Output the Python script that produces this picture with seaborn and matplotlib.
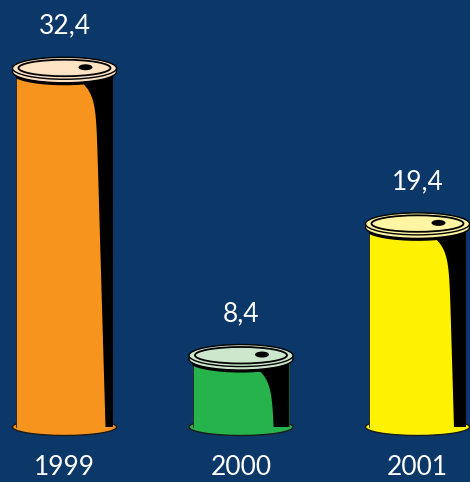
import numpy as np
import pandas as pd
import matplotlib
matplotlib.use("Agg")
import matplotlib.pyplot as plt
import seaborn as sns
from matplotlib.patches import Ellipse, Polygon

# ---- data ----
years = ["1999", "2000", "2001"]
values = [32.4, 8.4, 19.4]
value_labels = ["32,4", "8,4", "19,4"]

# ---- styles ----
body_colors = ["#f7941d", "#27b34b", "#fff200"]
lid_colors = ["#fde2c4", "#cde7cd", "#fff5a3"]
BG = "#0b3868"

sns.set_theme(style="white")
plt.rcParams["font.family"] = ["Lato", "DejaVu Sans"]

W, H = 470, 482
fig = plt.figure(figsize=(W / 100, H / 100), dpi=100, facecolor=BG)
AX_H = 445
ax = fig.add_axes([0, (H - AX_H) / H, 1, AX_H / H])
ax.set_facecolor(BG)

# pixel scale (px per data unit)
PX = 176.5
PY = 11.97
Y0 = 454.6  # pixel row of value 0 (from top)
FLOOR = (Y0 - 427) / PY

df = pd.DataFrame({"year": years, "value": values})
sns.barplot(data=df, x="year", y="value", hue="year", palette=body_colors,
            width=97 / PX, saturation=1, linewidth=0, legend=False, ax=ax)
ax.set_xlim(-64.5 / PX, (W - 64.5) / PX)
ax.set_ylim((Y0 - AX_H) / PY, Y0 / PY)

lid_w, lid_h = 104 / PX, 22 / PY
for cont, lab, bc, lc in zip(ax.containers, value_labels, body_colors, lid_colors):
    p = cont.patches[0]
    v = p.get_height()
    x0 = p.get_x()
    bw = p.get_width()
    c = x0 + bw / 2
    p.set_y(FLOOR)
    p.set_height(v - FLOOR)
    p.set_zorder(2)

    # bottom of can
    ax.add_patch(Ellipse((c, FLOOR), lid_w, 17 / PY, facecolor=bc,
                         edgecolor="#1b1b1b", lw=1.0, zorder=1))
    # left edge line
    ax.plot([x0, x0], [FLOOR, v], color="#2a2a2a", lw=0.7, zorder=2.5)

    # shadow polygon
    lid_cy = v - 1.5 / PY
    xs = np.linspace(0, 0.70, 40)
    pts = []
    for fx in xs:
        dx = (fx - 0.5) * bw / (lid_w / 2)
        arc = lid_cy - (lid_h / 2) * np.sqrt(max(0.0, 1 - dx ** 2)) - 6 / PY
        pts.append((x0 + fx * bw, arc))
    top_y = pts[-1][1]
    total_px = (top_y - FLOOR) * PY
    ds = np.linspace(0, total_px, 80)
    for d in ds:
        f = 0.70 + 0.12 * (1 - np.exp(-d / 12)) + 0.0003 * d
        pts.append((x0 + min(f, 0.95) * bw, top_y - d / PY))
    pts.append((x0 + bw, FLOOR))
    pts.append((x0 + bw, v))
    pts.append((x0, v))
    ax.add_patch(Polygon(pts, closed=True, facecolor="black", edgecolor="none", zorder=3))

    # rim and lid
    ax.add_patch(Ellipse((c, lid_cy - 3.5 / PY), lid_w, lid_h, facecolor=lc,
                         edgecolor="black", lw=1.0, zorder=4))
    ax.add_patch(Ellipse((c, lid_cy), lid_w, lid_h, facecolor=lc,
                         edgecolor="black", lw=1.0, zorder=5))
    ax.add_patch(Ellipse((c, lid_cy + 0.3 / PY), 92 / PX, 16.5 / PY, facecolor="none",
                         edgecolor="black", lw=1.3, zorder=6))
    ax.add_patch(Ellipse((c + 21 / PX, lid_cy + 1 / PY), 14 / PX, 6 / PY,
                         facecolor="black", edgecolor="none", zorder=7))

    ax.text(c, v + 3.4, lab, ha="center", va="center", color="white",
            fontsize=19, zorder=8)

ax.set_xlabel("")
ax.set_ylabel("")
ax.set_yticks([])
for s in ax.spines.values():
    s.set_visible(False)
ax.tick_params(axis="x", colors="white", labelsize=19, length=0, pad=7)

fig.savefig("out.png", dpi=100, facecolor=BG)
